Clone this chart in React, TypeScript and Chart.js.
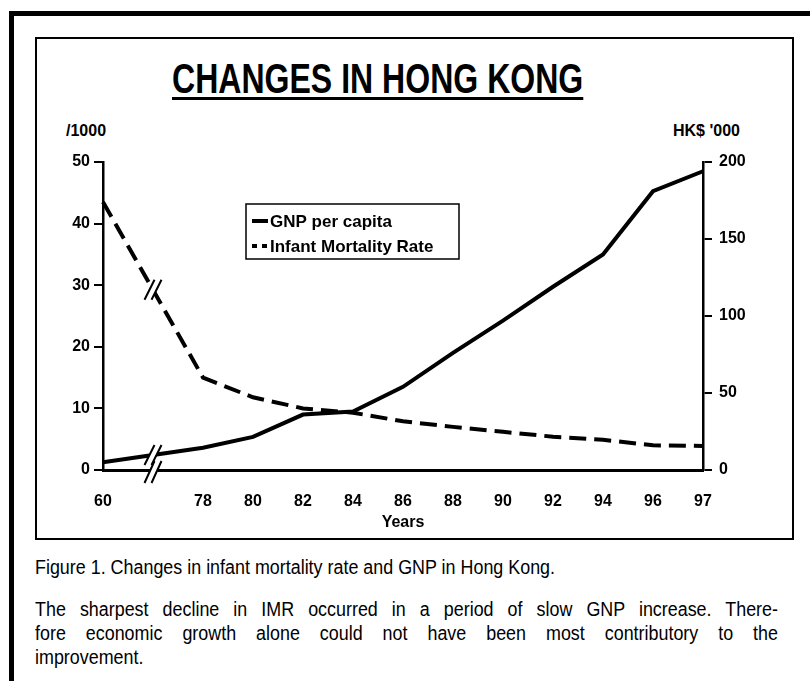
import React, { useEffect, useRef } from 'react';
import { Chart, registerables } from 'chart.js';

Chart.register(...registerables);

// ---- data ----
const years = ['60', '', '78', '80', '82', '84', '86', '88', '90', '92', '94', '96', '97'];
const gnpPerCapita = [5, null, 14.5, 21.5, 36, 38, 54, 76, 97, 119, 140, 181, 194];
const infantMortality = [43.5, null, 15, 11.8, 10, 9.3, 7.9, 7.0, 6.2, 5.4, 4.9, 4.0, 3.9];
const seriesNames = ['GNP per capita', 'Infant Mortality Rate'];
const breakIndex = 1;
const leftAxisMax = 50;
const rightAxisMax = 200;
const titleText = 'CHANGES IN HONG KONG';
const leftUnit = '/1000';
const rightUnit = "HK$ '000";
const xTitle = 'Years';
const captionLine = 'Figure 1. Changes in infant mortality rate and GNP in Hong Kong.';
const paragraphLines = [
  'The sharpest decline in IMR occurred in a period of slow GNP increase. There-',
  'fore economic growth alone could not have been most contributory to the',
  'improvement.',
];

const SANS = '"Liberation Sans", Arial, Helvetica, sans-serif';
const CAPTION_SCALE = 0.895;
const TITLE_SCALE = 0.763;

function drawBreak(ctx: CanvasRenderingContext2D, x: number, y: number, h = 10) {
  const dx = 5;
  const s = 3.5;
  ctx.save();
  ctx.fillStyle = '#fff';
  ctx.beginPath();
  ctx.moveTo(x - s - dx, y + h);
  ctx.lineTo(x - s + dx, y - h);
  ctx.lineTo(x + s + dx, y - h);
  ctx.lineTo(x + s - dx, y + h);
  ctx.closePath();
  ctx.fill();
  ctx.strokeStyle = '#000';
  ctx.lineWidth = 2;
  ctx.setLineDash([]);
  ctx.beginPath();
  ctx.moveTo(x - s - dx, y + h);
  ctx.lineTo(x - s + dx, y - h);
  ctx.moveTo(x + s - dx, y + h);
  ctx.lineTo(x + s + dx, y - h);
  ctx.stroke();
  ctx.restore();
}

const breakPlugin = {
  id: 'breakMarks',
  afterDraw(chart: any) {
    const ctx = chart.ctx;
    const xs = chart.scales.x;
    const x = xs.getPixelForValue(breakIndex);
    chart.data.datasets.forEach((_ds: any, i: number) => {
      const meta = chart.getDatasetMeta(i);
      const p0 = meta.data[breakIndex - 1];
      const p2 = meta.data[breakIndex + 1];
      if (!p0 || !p2) return;
      const t = (x - p0.x) / (p2.x - p0.x);
      const y = p0.y + t * (p2.y - p0.y);
      drawBreak(ctx, x, y);
    });
    drawBreak(ctx, x, chart.chartArea.bottom + 2, 11);
  },
};

const legendPlugin = {
  id: 'boxLegend',
  afterDraw(chart: any) {
    const ctx = chart.ctx;
    const { left, top } = chart.chartArea;
    const bx = left + 143;
    const by = top + 42;
    const bw = 213;
    const bh = 55;
    ctx.save();
    ctx.fillStyle = '#fff';
    ctx.fillRect(bx, by, bw, bh);
    ctx.strokeStyle = '#000';
    ctx.lineWidth = 1.5;
    ctx.strokeRect(bx, by, bw, bh);
    ctx.font = `bold 17px ${SANS}`;
    ctx.fillStyle = '#000';
    ctx.textBaseline = 'middle';
    chart.data.datasets.forEach((ds: any, i: number) => {
      const cy = by + 17 + i * 25;
      ctx.beginPath();
      ctx.lineWidth = 4;
      ctx.setLineDash(ds.borderDash && ds.borderDash.length ? [5, 5] : []);
      ctx.moveTo(bx + 6, cy);
      ctx.lineTo(bx + 22, cy);
      ctx.stroke();
      ctx.setLineDash([]);
      ctx.fillText(ds.label, bx + 24, cy + 1);
    });
    ctx.restore();
  },
};

function ChartView() {
  const ref = useRef<HTMLCanvasElement | null>(null);
  useEffect(() => {
    if (!ref.current) return;
    const tickFont = { family: SANS, weight: 'bold' as const, size: 16 };
    const chart = new Chart(ref.current, {
      type: 'line',
      data: {
        labels: years,
        datasets: [
          {
            label: seriesNames[0],
            data: gnpPerCapita,
            yAxisID: 'yRight',
            borderColor: '#000',
            borderWidth: 4,
            pointRadius: 0,
            tension: 0,
            spanGaps: true,
            fill: false,
          },
          {
            label: seriesNames[1],
            data: infantMortality,
            yAxisID: 'yLeft',
            borderColor: '#000',
            borderWidth: 4,
            borderDash: [17, 8],
            pointRadius: 0,
            tension: 0,
            spanGaps: true,
            fill: false,
          },
        ],
      },
      options: {
        animation: false,
        responsive: true,
        maintainAspectRatio: false,
        layout: { padding: { top: 52, left: 0, right: 0, bottom: 0 } },
        plugins: {
          legend: { display: false },
          tooltip: { enabled: false },
          title: { display: false },
        },
        scales: {
          x: {
            type: 'category',
            offset: false,
            grid: { display: false },
            border: { display: true, color: '#000', width: 3 },
            ticks: {
              autoSkip: false,
              maxRotation: 0,
              color: '#000',
              font: tickFont,
              padding: 14,
            },
            title: {
              display: true,
              text: xTitle,
              color: '#000',
              font: { family: SANS, weight: 'bold', size: 16 },
              padding: { top: 0, bottom: 6 },
            },
            afterFit: (s: any) => {
              s.height = 68;
            },
          },
          yLeft: {
            type: 'linear',
            position: 'left',
            min: 0,
            max: leftAxisMax,
            ticks: { stepSize: 10, color: '#000', font: tickFont, padding: 4 },
            grid: { drawOnChartArea: false, drawTicks: true, tickLength: 9, color: '#000', lineWidth: 2 },
            border: { display: true, color: '#000', width: 2.5 },
            afterFit: (s: any) => {
              s.width = 67;
            },
          },
          yRight: {
            type: 'linear',
            position: 'right',
            min: 0,
            max: rightAxisMax,
            ticks: { stepSize: 50, color: '#000', font: tickFont, padding: 7 },
            grid: { drawOnChartArea: false, drawTicks: true, tickLength: 9, color: '#000', lineWidth: 2 },
            border: { display: true, color: '#000', width: 2.5 },
            afterFit: (s: any) => {
              s.width = 89;
            },
          },
        },
      },
      plugins: [breakPlugin, legendPlugin],
    });
    return () => chart.destroy();
  }, []);
  return (
    <div style={{ position: 'absolute', left: 36, top: 110, width: 756, height: 428 }}>
      <canvas ref={ref} />
    </div>
  );
}

export default function App() {
  return (
    <div
      style={{
        position: 'absolute',
        left: 0,
        top: 0,
        width: 810,
        height: 681,
        overflow: 'hidden',
        background: '#fff',
        color: '#000',
      }}
    >
      <div
        style={{
          position: 'absolute',
          left: 9,
          top: 11,
          width: 801,
          height: 670,
          borderTop: '5px solid #000',
          borderLeft: '5px solid #000',
          boxSizing: 'border-box',
        }}
      />
      <div
        style={{
          position: 'absolute',
          left: 35,
          top: 37,
          width: 759,
          height: 503,
          border: '2px solid #000',
          boxSizing: 'border-box',
        }}
      />
      <div
        style={{
          position: 'absolute',
          left: 172,
          top: 55,
          whiteSpace: 'nowrap',
          fontFamily: SANS,
          fontWeight: 'bold',
          fontSize: 42,
          lineHeight: '48px',
          textDecoration: 'underline',
          textDecorationThickness: '3px',
          textUnderlineOffset: '4px',
          transform: `scaleX(${TITLE_SCALE})`,
          transformOrigin: 'left top',
        }}
      >
        {titleText}
      </div>
      <div
        style={{
          position: 'absolute',
          left: 66,
          top: 122,
          fontFamily: SANS,
          fontWeight: 'bold',
          fontSize: 16,
          lineHeight: '18px',
        }}
      >
        {leftUnit}
      </div>
      <div
        style={{
          position: 'absolute',
          left: 673,
          top: 122,
          fontFamily: SANS,
          fontWeight: 'bold',
          fontSize: 16,
          lineHeight: '18px',
        }}
      >
        {rightUnit}
      </div>
      <ChartView />
      <div
        style={{
          position: 'absolute',
          left: 35,
          top: 555,
          fontFamily: SANS,
          fontSize: 20,
          lineHeight: '24px',
          whiteSpace: 'nowrap',
          transform: `scaleX(${CAPTION_SCALE})`,
          transformOrigin: 'left top',
        }}
      >
        {captionLine}
      </div>
      {paragraphLines.map((line, i) => (
        <div
          key={i}
          style={{
            position: 'absolute',
            left: 35,
            width: 743 / CAPTION_SCALE,
            top: 597 + i * 24,
            fontFamily: SANS,
            fontSize: 20,
            lineHeight: '24px',
            whiteSpace: 'nowrap',
            textAlign: i < paragraphLines.length - 1 ? 'justify' : 'left',
            textAlignLast: i < paragraphLines.length - 1 ? 'justify' : 'left',
            transform: `scaleX(${CAPTION_SCALE})`,
            transformOrigin: 'left top',
          }}
        >
          {line}
        </div>
      ))}
    </div>
  );
}
